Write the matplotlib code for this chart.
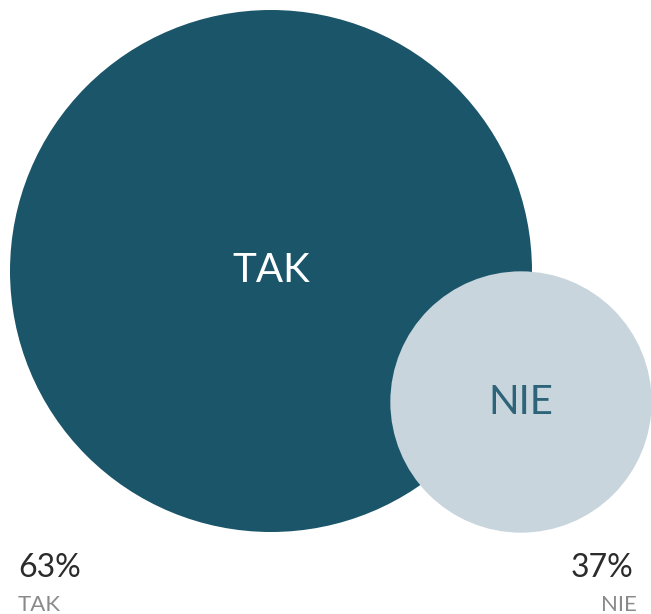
import matplotlib
matplotlib.use("Agg")
import matplotlib.pyplot as plt
from matplotlib.patches import Circle

categories = ["TAK", "NIE"]
values = [63, 37]
labels = ["63%", "37%"]

fill_colors = ["#1b5569", "#c9d5dd"]
inner_text_colors = ["#ffffff", "#2d6479"]

W, H = 651, 614
fig = plt.figure(figsize=(W / 100, H / 100), dpi=100)
ax = fig.add_axes([0, 0, 1, 1])
ax.set_xlim(0, W)
ax.set_ylim(H, 0)
ax.set_aspect("equal")
ax.axis("off")

# radius: largest value -> 261 px, scaled by value^1.3 (visual match)
rmax = 261
vmax = max(values)
radii = [rmax * (v / vmax) ** 1.3 for v in values]
centers = [(271, 271), (521, 402)]

font = "Lato"
for cat, r, c, fc, tc in zip(categories, radii, centers, fill_colors, inner_text_colors):
    ax.add_patch(Circle(c, r, facecolor=fc, edgecolor="none", zorder=2))
    ax.text(c[0], c[1], cat, ha="center", va="center", color=tc, fontsize=29,
            fontfamily=font, fontweight="normal", zorder=3)

# bottom labels
ax.text(18, 577, labels[0], ha="left", va="baseline", color="#2b2b2b",
        fontsize=23, fontfamily=font, fontweight="normal")
ax.text(18, 611, categories[0], ha="left", va="baseline", color="#8a8a8a",
        fontsize=16, fontfamily=font, fontweight="normal")
ax.text(633, 577, labels[1], ha="right", va="baseline", color="#2b2b2b",
        fontsize=23, fontfamily=font, fontweight="normal")
ax.text(637, 611, categories[1], ha="right", va="baseline", color="#8a8a8a",
        fontsize=16, fontfamily=font, fontweight="normal")

fig.savefig("out.png", dpi=100, facecolor="white")
